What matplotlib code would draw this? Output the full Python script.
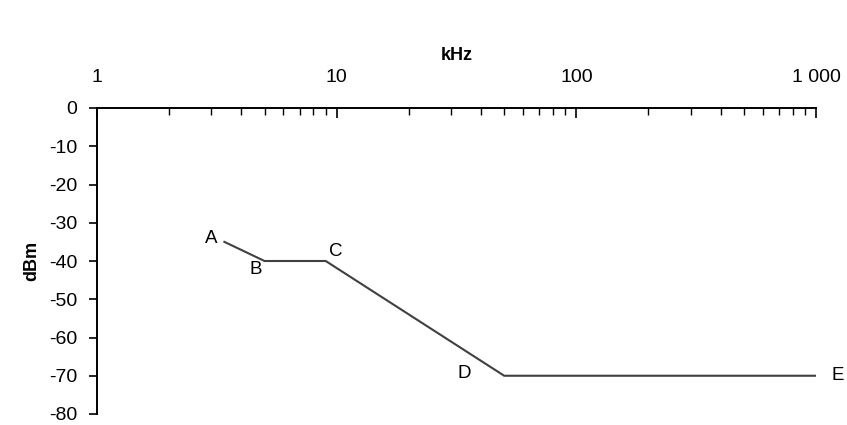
import matplotlib

matplotlib.use("Agg")
import matplotlib.pyplot as plt
from matplotlib.ticker import FixedLocator, FixedFormatter, LogLocator, NullFormatter

plt.rcParams["font.family"] = ["Liberation Sans", "DejaVu Sans"]
plt.rcParams["axes.unicode_minus"] = False

LINE = "#404040"
TEXT = "#000000"

# mask points: frequency in kHz, level in dBm
POINT_NAMES = ["A", "B", "C", "D", "E"]
FREQ_KHZ = [3.4, 5, 9, 50, 1000]
LEVEL_DBM = [-35, -40, -40, -70, -70]

X_TICKS = [1, 10, 100, 1000]
X_LABELS = ["1", "10", "100", "1 000"]
Y_TICKS = [0, -10, -20, -30, -40, -50, -60, -70, -80]

# label offsets in pixels relative to each point
LABEL_OFFSETS = {
    "A": (-13, 3),
    "B": (-9, -8),
    "C": (10, 10),
    "D": (-40, 2),
    "E": (22, 0),
}


def main():
    fig = plt.figure(figsize=(8.47, 4.25), dpi=100)
    ax = fig.add_axes([97 / 847, 1 - 414 / 425, (816 - 97) / 847, (414 - 108) / 425])

    ax.plot(FREQ_KHZ, LEVEL_DBM, color=LINE, linewidth=1.5, solid_joinstyle="miter")

    for name, x, y in zip(POINT_NAMES, FREQ_KHZ, LEVEL_DBM):
        dx, dy = LABEL_OFFSETS[name]
        ax.annotate(
            name,
            (x, y),
            xytext=(dx, dy),
            textcoords="offset pixels",
            ha="center",
            va="center",
            fontsize=13.5,
            color=TEXT,
        )

    ax.set_xscale("log")
    ax.set_xlim(1, 1000)
    ax.set_ylim(-80, 0)

    ax.xaxis.set_ticks_position("top")
    ax.xaxis.set_label_position("top")
    ax.xaxis.set_major_locator(FixedLocator(X_TICKS))
    ax.xaxis.set_major_formatter(FixedFormatter(X_LABELS))
    ax.xaxis.set_minor_locator(LogLocator(base=10, subs=range(2, 10)))
    ax.xaxis.set_minor_formatter(NullFormatter())
    ax.tick_params(axis="x", which="major", direction="in", length=7, width=1.2, pad=16, labelsize=14)
    ax.tick_params(axis="x", which="minor", direction="in", length=5, width=1.0)

    ax.set_yticks(Y_TICKS)
    ax.tick_params(axis="y", which="major", direction="out", length=6, width=1.2, pad=8, labelsize=14)

    ax.set_xlabel("kHz", fontsize=13, fontweight="bold", labelpad=6)
    ax.set_ylabel("dBm", fontsize=13, fontweight="bold", labelpad=6.5)

    ax.spines["right"].set_visible(False)
    ax.spines["bottom"].set_visible(False)
    ax.spines["top"].set_linewidth(1.4)
    ax.spines["left"].set_linewidth(1.4)

    fig.savefig("out.png", dpi=100, facecolor="white")
    plt.close(fig)


if __name__ == "__main__":
    main()
